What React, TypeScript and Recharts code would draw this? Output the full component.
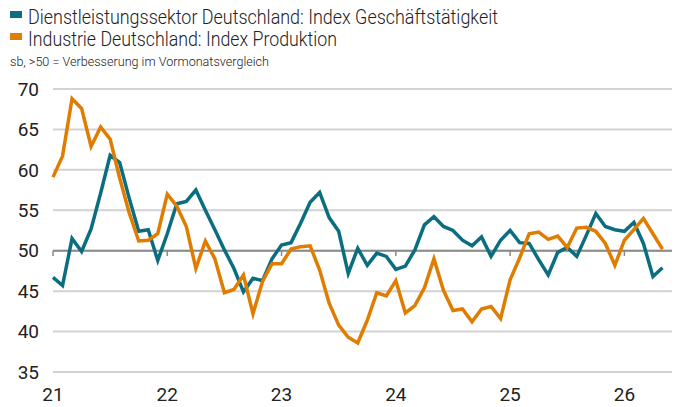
import { LineChart, Line, XAxis, YAxis, CartesianGrid, ReferenceLine } from "recharts";

// monthly, Jan 2021 .. May 2026
const dienstleistung = [
  46.7, 45.7, 51.5, 49.9, 52.7, 57.1, 61.8, 60.9, 56.5, 52.4, 52.6, 48.8,
  52.1, 55.8, 56.1, 57.5, 55.0, 52.6, 50.1, 47.8, 44.9, 46.6, 46.3, 49.0,
  50.7, 51.0, 53.4, 56.0, 57.2, 54.1, 52.4, 47.2, 50.3, 48.2, 49.7, 49.3,
  47.7, 48.1, 50.1, 53.2, 54.2, 53.0, 52.5, 51.3, 50.6, 51.7, 49.3, 51.3,
  52.5, 51.0, 50.9, 48.9, 47.0, 49.8, 50.4, 49.3, 51.9, 54.6, 53.0, 52.6,
  52.4, 53.5, 50.9, 46.8, 47.9,
];
const industrie = [
  59.1, 61.7, 68.8, 67.6, 62.9, 65.3, 63.8, 59.0, 54.7, 51.2, 51.3, 52.1,
  57.0, 55.5, 53.0, 47.8, 51.2, 49.0, 44.8, 45.2, 47.0, 42.2, 46.2, 48.4,
  48.4, 50.2, 50.5, 50.6, 47.6, 43.5, 40.8, 39.3, 38.6, 41.4, 44.8, 44.4,
  46.3, 42.3, 43.2, 45.4, 49.0, 45.1, 42.6, 42.8, 41.2, 42.8, 43.1, 41.6,
  46.4, 49.1, 52.1, 52.3, 51.4, 51.8, 50.4, 52.8, 52.9, 52.4, 50.9, 48.2,
  51.3, 52.6, 54.0, 52.1, 50.2,
];
const yearLabels = ["21", "22", "23", "24", "25", "26"];
const yearTicks = [0, 12, 24, 36, 48, 60];
const yTicks = [35, 40, 45, 50, 55, 60, 65, 70];

const BLUE = "#0B6E80";
const ORANGE = "#E07C00";

const data = dienstleistung.map((v, i) => ({ i, dl: v, ind: industrie[i] }));

const Legend = () => (
  <svg width={676} height={80} style={{ position: "absolute", left: 0, top: 0 }}>
    <rect x={10} y={11} width={12} height={7} fill={BLUE} />
    <text x={28} y={24} fontSize={21} fontWeight={300} fill="#222" fontFamily="Roboto" textLength={470} lengthAdjust="spacingAndGlyphs">
      Dienstleistungssektor Deutschland: Index Geschäftstätigkeit
    </text>
    <rect x={10} y={33} width={12} height={7} fill={ORANGE} />
    <text x={28} y={46} fontSize={21} fontWeight={300} fill="#222" fontFamily="Roboto" textLength={309} lengthAdjust="spacingAndGlyphs">
      Industrie Deutschland: Index Produktion
    </text>
    <text x={10} y={66} fontSize={13.5} fontWeight={300} fill="#222" fontFamily="Roboto" textLength={259} lengthAdjust="spacingAndGlyphs">
      sb, &gt;50 = Verbesserung im Vormonatsvergleich
    </text>
  </svg>
);

export default function App() {
  return (
    <div style={{ position: "fixed", left: 0, top: 0, width: 676, height: 407, background: "#fff" }}>
      <LineChart width={676} height={407} data={data} margin={{ top: 89, right: 4, left: 0, bottom: 0 }}>
        <CartesianGrid vertical={false} stroke="#d2d2d2" strokeWidth={2} />
        <XAxis
          dataKey="i"
          type="number"
          domain={[0, 65]}
          ticks={yearTicks}
          tickFormatter={(v) => yearLabels[v / 12]}
          axisLine={false}
          tickLine={false}
          height={35}
          tickMargin={10}
          tick={{ fill: "#222", fontSize: 19, fontFamily: "Roboto" }}
        />
        <YAxis
          domain={[35, 70]}
          ticks={yTicks}
          axisLine={false}
          tickLine={false}
          width={53}
          tickMargin={8}
          tick={{ fill: "#222", fontSize: 19, fontFamily: "Roboto" }}
        />
        <ReferenceLine y={50} stroke="#8a8a8a" strokeWidth={2} />
        {yearTicks.map((t) => (
          <ReferenceLine key={t} segment={[{ x: t, y: 50 }, { x: t, y: 49.35 }]} stroke="#8a8a8a" strokeWidth={1.5} />
        ))}
        <Line dataKey="dl" stroke={BLUE} strokeWidth={3.5} dot={false} isAnimationActive={false} strokeLinejoin="miter" />
        <Line dataKey="ind" stroke={ORANGE} strokeWidth={3.5} dot={false} isAnimationActive={false} strokeLinejoin="miter" />
      </LineChart>
      <Legend />
    </div>
  );
}
